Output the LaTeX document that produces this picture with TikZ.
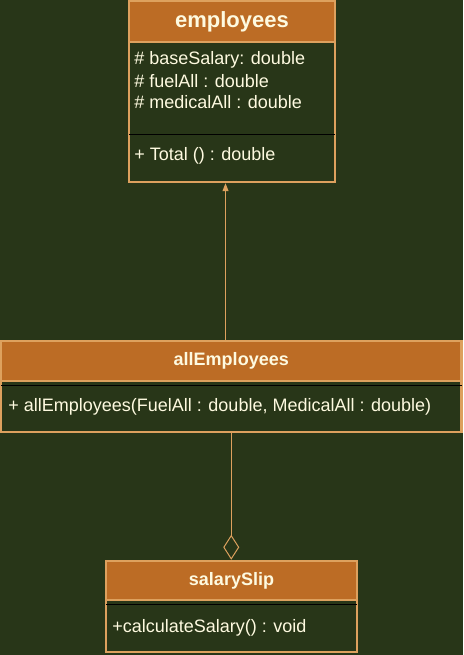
\documentclass[tikz,border=0pt]{standalone}
\usepackage{fontspec}
\setmainfont{Liberation Sans}
\usetikzlibrary{positioning,calc,arrows.meta}
\definecolor{bgolive}{HTML}{283618}
\definecolor{headrust}{HTML}{BC6C25}
\definecolor{edgetan}{HTML}{DDA15E}
\definecolor{textcream}{HTML}{FEFAE0}
\newcommand{\pxu}{0.75pt}
\tikzset{
  classbox/.style={draw=edgetan, fill=bgolive, line width=2.5*\pxu, inner sep=0},
  classhead/.style={draw=edgetan, fill=headrust, line width=2.5*\pxu, text=textcream,
    font=\bfseries\fontsize{13.5}{16}\selectfont, inner sep=0},
  member/.style={anchor=west, inner sep=0, text=textcream, font=\fontsize{13.5}{16}\selectfont},
  divider/.style={black, line width=1*\pxu},
  link/.style={color=edgetan, line width=1*\pxu}
}

\begin{document}
\begin{tikzpicture}[x=\pxu, y=-\pxu]
        \fill[bgolive] (0,0) rectangle (463,655);
        \useasboundingbox (0,0) rectangle (463,655);

        % employees
        \node[classbox, minimum width=206*\pxu, minimum height=181*\pxu] (emp) at (232,91.5) {};
        \node[classhead, minimum width=206*\pxu, minimum height=41*\pxu,
          font=\bfseries\fontsize{16.5}{20}\selectfont] (empHead) at (232,21.5) {employees};
        \foreach \attr [count=\i] in {\# baseSalary: double, \# fuelAll : double, \# medicalAll : double} {
            \node[member] (empAttr\i) at (134,39+21*\i) {\attr};
        }
        \draw[divider] (129,135) -- (335,135);
        \node[member] (empTotal) at (134,156) {+ Total () : double};

        % allEmployees
        \node[classbox, minimum width=460.5*\pxu, minimum height=91*\pxu] (allEmp) at (231.25,386.5) {};
        \node[classhead, minimum width=460.5*\pxu, minimum height=40*\pxu] (allEmpHead) at (231.25,361) {allEmployees};
        \draw[divider] (1,385) -- (461.5,385);
        \node[member] (allEmpCtor) at (8,407) {+ allEmployees(FuelAll : double, MedicalAll : double)};

        % salarySlip
        \node[classbox, minimum width=251*\pxu, minimum height=91*\pxu] (slip) at (231.5,606.5) {};
        \node[classhead, minimum width=251*\pxu, minimum height=39*\pxu] (slipHead) at (231.5,580.5) {salarySlip};
        \draw[divider] (106,604) -- (357,604);
        \node[member] (slipCalc) at (112,628) {+calculateSalary() : void};

        % connectors
        \coordinate (genX) at (225.5,0);
        \draw[link, -{Triangle[length=6pt, width=4.5pt]}] (allEmpHead.north -| genX) -- (emp.south -| genX);
        \draw[link, -{Diamond[fill=bgolive, length=18.75pt, width=12pt]}] (allEmp.south) -- (allEmp.south |- slipHead.north);
    \end{tikzpicture}
\end{document}
